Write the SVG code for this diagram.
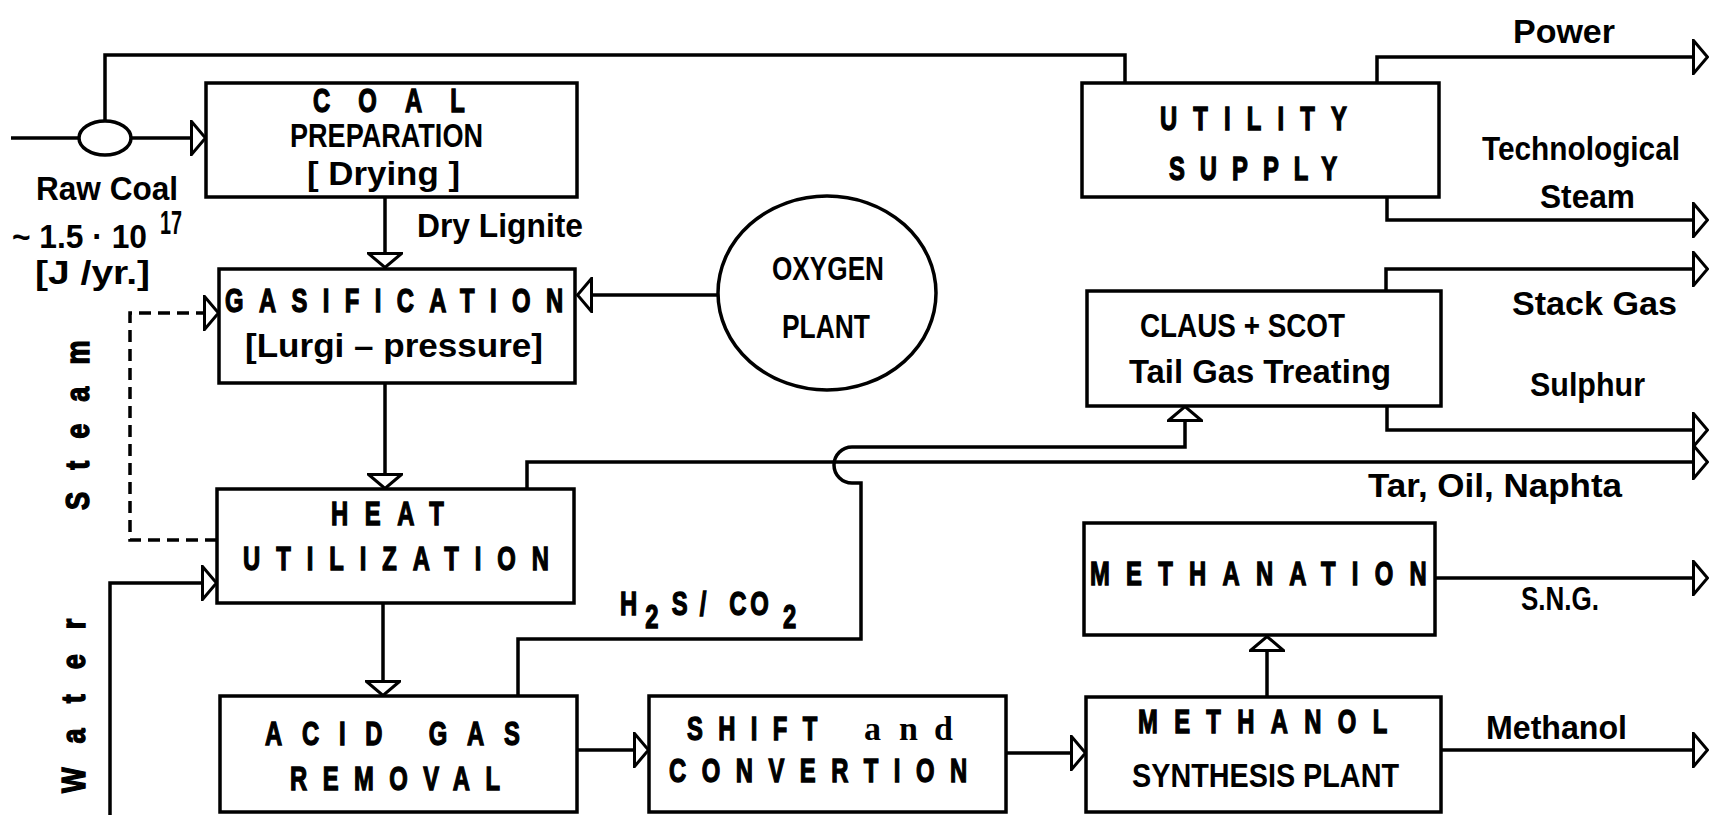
<svg xmlns="http://www.w3.org/2000/svg" width="1710" height="815" viewBox="0 0 1710 815">
<style>
.box{fill:#fff;stroke:#000;stroke-width:3.5}
.ln{fill:none;stroke:#000;stroke-width:3.5;stroke-linejoin:miter}
.arr{marker-end:url(#ah)}
.dash{stroke-dasharray:12 7}
text{font-family:'Liberation Sans',Arial,sans-serif;font-weight:bold;fill:#000;font-size:34px}
.sc{stroke:#000;stroke-width:1.4}
.serif{font-family:'Liberation Serif','Times New Roman',serif}
</style>
<defs>
<marker id="ah" viewBox="0 0 17 36" refX="16" refY="18" markerWidth="17" markerHeight="36" markerUnits="userSpaceOnUse" orient="auto">
<path d="M1.5,1.5 L15.5,18 L1.5,34.5 Z" fill="#fff" stroke="#000" stroke-width="3"/>
</marker>
</defs>
<rect width="1710" height="815" fill="#fff"/>

<g id="connectors">
<path class="ln" d="M11,138 H79"/>
<path class="ln" d="M105,121 V55 H1125 V83"/>
<path class="ln arr" d="M131,138 H206"/>
<path class="ln arr" d="M385,197 V268"/>
<path class="ln arr" d="M718,295 H577"/>
<path class="ln dash arr" d="M217,540 H130 V313 H219"/>
<path class="ln arr" d="M385,383 V489"/>
<path class="ln arr" d="M110,815 V583 H217"/>
<path class="ln arr" d="M383,603 V696"/>
<path class="ln arr" d="M577,750 H649"/>
<path class="ln arr" d="M1006,753 H1086"/>
<path class="ln arr" d="M1267,697 V636"/>
<path class="ln arr" d="M1435,578 H1708"/>
<path class="ln arr" d="M1441,750 H1708"/>
<path class="ln arr" d="M527,489 V462 H1708"/>
<path class="ln arr" d="M518,696 V639 H861 V483 H852 A18,18 0 0 1 852,447 H1185 V406"/>
<path class="ln arr" d="M1386,291 V269 H1708"/>
<path class="ln arr" d="M1387,406 V430 H1708"/>
<path class="ln arr" d="M1377,83 V57 H1708"/>
<path class="ln arr" d="M1387,197 V220 H1708"/>
</g>

<g id="labels">
<text x="36" y="200" textLength="142" lengthAdjust="spacingAndGlyphs" font-size="31">Raw Coal</text>
<text x="12" y="248" textLength="135" lengthAdjust="spacingAndGlyphs" font-size="32">~ 1.5 · 10</text>
<text x="160" y="234" textLength="22" lengthAdjust="spacingAndGlyphs" font-size="32">17</text>
<text x="35" y="284" textLength="115" lengthAdjust="spacingAndGlyphs" font-size="32">[J /yr.]</text>
<text x="417" y="237" textLength="166" lengthAdjust="spacingAndGlyphs" font-size="35">Dry Lignite</text>
<text class="sc" transform="translate(89,510) rotate(-90) scale(0.8,1)" textLength="212" lengthAdjust="spacing" font-size="34">Steam</text>
<text class="sc" transform="translate(85,793) rotate(-90) scale(0.8,1)" textLength="218" lengthAdjust="spacing" font-size="34">Water</text>
<text class="sc" transform="translate(620,615) scale(0.7,1)" font-size="38"><tspan x="0">H</tspan><tspan x="36" dy="13">2</tspan><tspan x="74" dy="-13">S</tspan><tspan x="114">/</tspan><tspan x="156">C</tspan><tspan x="186">O</tspan><tspan x="233" dy="13">2</tspan></text>
<text x="1513" y="43" textLength="102" lengthAdjust="spacingAndGlyphs" font-size="35">Power</text>
<text x="1482" y="160" textLength="198" lengthAdjust="spacingAndGlyphs" font-size="33">Technological</text>
<text x="1540" y="208" textLength="95" lengthAdjust="spacingAndGlyphs" font-size="33">Steam</text>
<text x="1512" y="315" textLength="165" lengthAdjust="spacingAndGlyphs" font-size="32">Stack  Gas</text>
<text x="1530" y="396" textLength="115" lengthAdjust="spacingAndGlyphs" font-size="32">Sulphur</text>
<text x="1368" y="497" textLength="254" lengthAdjust="spacingAndGlyphs" font-size="35">Tar, Oil, Naphta</text>
<text x="1521" y="610" textLength="78" lengthAdjust="spacingAndGlyphs" font-size="31">S.N.G.</text>
<text x="1486" y="739" textLength="141" lengthAdjust="spacingAndGlyphs" font-size="35">Methanol</text>
</g>

<g id="coal-splitter">
<ellipse class="box" cx="105" cy="138" rx="26" ry="17"/>
</g>

<g id="coal-preparation">
<rect class="box" x="206" y="83" width="371" height="114"/>
<text class="sc" transform="translate(313,112) scale(0.7,1)" textLength="217" lengthAdjust="spacing" font-size="33">COAL</text>
<text x="290" y="147" textLength="193" lengthAdjust="spacingAndGlyphs" font-size="31">PREPARATION</text>
<text x="307" y="185" textLength="153" lengthAdjust="spacingAndGlyphs" font-size="33">[ Drying ]</text>
</g>

<g id="gasification">
<rect class="box" x="219" y="269" width="356" height="114"/>
<text class="sc" transform="translate(225,312) scale(0.7,1)" textLength="483" lengthAdjust="spacing" font-size="37">GASIFICATION</text>
<text x="245" y="357" textLength="298" lengthAdjust="spacingAndGlyphs" font-size="35">[Lurgi – pressure]</text>
</g>

<g id="oxygen-plant">
<ellipse class="box" cx="827" cy="293" rx="109" ry="97"/>
<text x="772" y="280" textLength="112" lengthAdjust="spacingAndGlyphs" font-size="36">OXYGEN</text>
<text x="782" y="338" textLength="88" lengthAdjust="spacingAndGlyphs" font-size="36">PLANT</text>
</g>

<g id="heat-utilization">
<rect class="box" x="217" y="489" width="357" height="114"/>
<text class="sc" transform="translate(331,525) scale(0.7,1)" textLength="161" lengthAdjust="spacing" font-size="31">HEAT</text>
<text class="sc" transform="translate(243,570) scale(0.7,1)" textLength="437" lengthAdjust="spacing" font-size="35">UTILIZATION</text>
</g>

<g id="acid-gas-removal">
<rect class="box" x="220" y="696" width="357" height="116"/>
<text class="sc" transform="translate(265,745) scale(0.7,1)" textLength="364" lengthAdjust="spacing" font-size="35">ACID GAS</text>
<text class="sc" transform="translate(290,790) scale(0.7,1)" textLength="300" lengthAdjust="spacing" font-size="36">REMOVAL</text>
</g>

<g id="shift-conversion">
<rect class="box" x="649" y="696" width="357" height="116"/>
<text class="sc" transform="translate(687,740) scale(0.7,1)" textLength="186" lengthAdjust="spacing" font-size="37">SHIFT</text>
<text class="serif" y="740" font-size="38"><tspan x="864 899 934">and</tspan></text>
<text class="sc" transform="translate(669,782) scale(0.7,1)" textLength="426" lengthAdjust="spacing" font-size="37">CONVERTION</text>
</g>

<g id="methanol-synthesis">
<rect class="box" x="1086" y="697" width="355" height="115"/>
<text class="sc" transform="translate(1138,733) scale(0.7,1)" textLength="356" lengthAdjust="spacing" font-size="30">METHANOL</text>
<text x="1132" y="787" textLength="267" lengthAdjust="spacingAndGlyphs" font-size="35">SYNTHESIS   PLANT</text>
</g>

<g id="methanation">
<rect class="box" x="1084" y="523" width="351" height="112"/>
<text class="sc" transform="translate(1090,585) scale(0.7,1)" textLength="481" lengthAdjust="spacing" font-size="35">METHANATION</text>
</g>

<g id="utility-supply">
<rect class="box" x="1082" y="83" width="357" height="114"/>
<text class="sc" transform="translate(1160,130) scale(0.7,1)" textLength="267" lengthAdjust="spacing" font-size="38">UTILITY</text>
<text class="sc" transform="translate(1169,180) scale(0.7,1)" textLength="240" lengthAdjust="spacing" font-size="38">SUPPLY</text>
</g>

<g id="claus-scot">
<rect class="box" x="1087" y="291" width="354" height="115"/>
<text x="1140" y="337" textLength="205" lengthAdjust="spacingAndGlyphs" font-size="36">CLAUS + SCOT</text>
<text x="1129" y="383" textLength="262" lengthAdjust="spacingAndGlyphs" font-size="35">Tail Gas Treating</text>
</g>
</svg>
